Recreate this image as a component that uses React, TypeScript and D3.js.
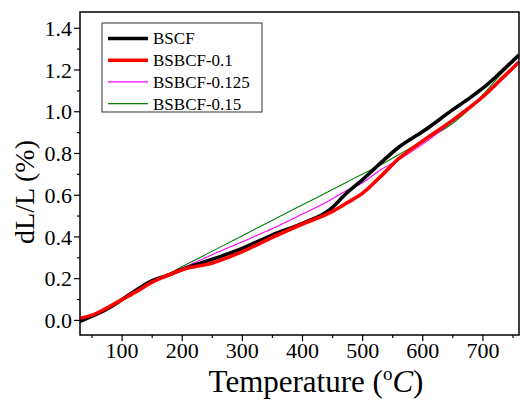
import React from "react";
import * as d3 from "d3";

const temps = [30, 50, 75, 100, 125, 150, 175, 200, 250, 300, 350, 400, 445, 475, 500, 530, 560, 600, 650, 680, 705, 730, 760];
const bscf = [-0.005, 0.02, 0.055, 0.1, 0.148, 0.19, 0.215, 0.245, 0.293, 0.345, 0.41, 0.465, 0.53, 0.615, 0.675, 0.755, 0.83, 0.905, 1.01, 1.07, 1.125, 1.19, 1.272];
const bsbcf010 = [0.01, 0.025, 0.06, 0.1, 0.14, 0.183, 0.215, 0.243, 0.275, 0.33, 0.398, 0.462, 0.515, 0.565, 0.61, 0.69, 0.775, 0.86, 0.96, 1.025, 1.085, 1.155, 1.238];
const bsbcf0125 = [0.005, 0.025, 0.06, 0.1, 0.145, 0.185, 0.218, 0.25, 0.315, 0.377, 0.44, 0.51, 0.575, 0.625, 0.66, 0.722, 0.77, 0.845, 0.955, 1.02, 1.08, 1.15, 1.24];
const bsbcf015 = [0, 0.02, 0.055, 0.095, 0.14, 0.18, 0.22, 0.258, 0.332, 0.406, 0.48, 0.554, 0.62, 0.665, 0.702, 0.745, 0.795, 0.86, 0.945, 1.02, 1.098, 1.18, 1.272];

const seriesNames = ["BSCF", "BSBCF-0.1", "BSBCF-0.125", "BSBCF-0.15"];
const xTicks = [100, 200, 300, 400, 500, 600, 700];
const yTicks = [0, 0.2, 0.4, 0.6, 0.8, 1.0, 1.2, 1.4];

const W = 520, H = 404;
const L = 80, R = 519, T = 12, B = 335;
const font = "Liberation Serif, Times New Roman, Tinos, Times, serif";

export default function App() {
  const x = d3.scaleLinear().domain([30, 760]).range([L, R]);
  const y = d3.scaleLinear().domain([-0.07, 1.478]).range([B, T]);
  const series = [
    { name: seriesNames[0], values: bscf, color: "#000000", width: 3.6 },
    { name: seriesNames[1], values: bsbcf010, color: "#ff0000", width: 3.6 },
    { name: seriesNames[2], values: bsbcf0125, color: "#ff00ff", width: 1.1 },
    { name: seriesNames[3], values: bsbcf015, color: "#008000", width: 1.1 },
  ];
  const line = d3
    .line<[number, number]>()
    .x((d) => x(d[0]))
    .y((d) => y(d[1]))
    .curve(d3.curveMonotoneX);
  const xMinor = d3.range(50, 761, 50);
  const yMinor = d3.range(0, 15).map((i) => +(i * 0.1).toFixed(1));
  const drawOrder = [3, 2, 0, 1];
  const txt = { fontFamily: font };
  return (
    <svg width={W} height={H} style={{ position: "absolute", left: 0, top: 0, background: "#fff" }}>
      <defs>
        <clipPath id="plotclip">
          <rect x={L} y={T} width={R - L} height={B - T} />
        </clipPath>
      </defs>
      <g clipPath="url(#plotclip)">
        {drawOrder.map((i) => {
          const s = series[i];
          const pts = temps.map((t, k) => [t, s.values[k]] as [number, number]);
          return (
            <path key={s.name} d={line(pts) || ""} fill="none" stroke={s.color} strokeWidth={s.width} strokeLinejoin="round" />
          );
        })}
      </g>
      <rect x={L} y={T} width={R - L} height={B - T} fill="none" stroke="#000" strokeWidth={1.5} />
      {xMinor.map((t) => (
        <line key={"xm" + t} x1={x(t)} x2={x(t)} y1={B} y2={B + (t % 100 === 0 ? 6 : 3)} stroke="#000" strokeWidth={1.2} />
      ))}
      {yMinor.map((v, i) => (
        <line key={"ym" + v} x1={L} x2={L - (i % 2 === 0 ? 6 : 3)} y1={y(v)} y2={y(v)} stroke="#000" strokeWidth={1.2} />
      ))}
      {xTicks.map((t) => (
        <text key={"xl" + t} x={x(t)} y={358} textAnchor="middle" style={txt} fontSize={22} fill="#000">
          {t}
        </text>
      ))}
      {yTicks.map((v) => (
        <text key={"yl" + v} x={72} y={y(v)} dy="0.35em" textAnchor="end" style={txt} fontSize={22} fill="#000">
          {v.toFixed(1)}
        </text>
      ))}
      <text x={316} y={392} textAnchor="middle" style={txt} fontSize={31} fill="#000">
        Temperature (<tspan fontSize={19} dy={-12}>o</tspan>
        <tspan dy={12} fontStyle="italic">C</tspan>)
      </text>
      <text transform="translate(34,192) rotate(-90)" textAnchor="middle" style={txt} fontSize={28} fill="#000">
        dL/L (%)
      </text>
      <rect x={102} y={23} width={160} height={89} fill="#fff" stroke="#333" strokeWidth={1} />
      {series.map((s, i) => {
        const cy = 38.5 + i * 21.7;
        return (
          <g key={"lg" + s.name}>
            <line x1={108} x2={148} y1={cy} y2={cy} stroke={s.color} strokeWidth={s.width} />
            <text x={153} y={cy} dy="0.35em" style={txt} fontSize={17} fill="#000">
              {s.name}
            </text>
          </g>
        );
      })}
    </svg>
  );
}
